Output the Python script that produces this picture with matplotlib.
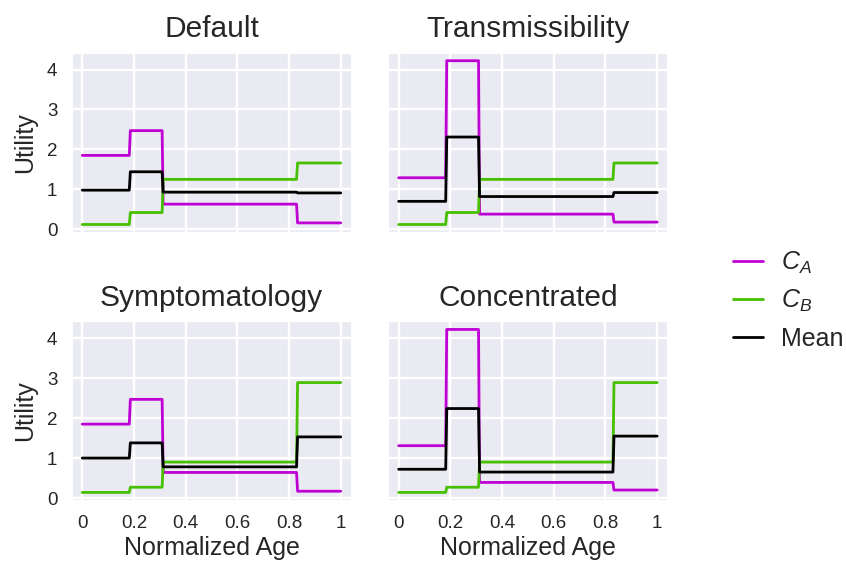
import numpy as np
import matplotlib
matplotlib.use('Agg')
import matplotlib.pyplot as plt
import seaborn as sns

# Границы возрастных групп (нормированный возраст)
edges = [0.0, 0.182, 0.309, 0.829, 1.0]

titles = ['Default', 'Transmissibility', 'Symptomatology', 'Concentrated']

# Уровни полезности по группам
ca_default = [1.85, 2.47, 0.63, 0.16]
cb_default = [0.12, 0.42, 1.25, 1.66]
mean_default = [0.98, 1.44, 0.93, 0.91]

ca_trans = [1.29, 4.22, 0.38, 0.18]
cb_trans = [0.12, 0.42, 1.25, 1.66]
mean_trans = [0.70, 2.31, 0.82, 0.92]

ca_sympt = [1.85, 2.47, 0.64, 0.17]
cb_sympt = [0.14, 0.27, 0.90, 2.89]
mean_sympt = [1.00, 1.38, 0.78, 1.53]

ca_conc = [1.31, 4.22, 0.39, 0.20]
cb_conc = [0.14, 0.27, 0.90, 2.89]
mean_conc = [0.72, 2.24, 0.65, 1.55]

panels = [
    (ca_default, cb_default, mean_default),
    (ca_trans, cb_trans, mean_trans),
    (ca_sympt, cb_sympt, mean_sympt),
    (ca_conc, cb_conc, mean_conc),
]

sns.set_style('darkgrid')
plt.rcParams['font.family'] = ['Liberation Sans', 'DejaVu Sans']
plt.rcParams['mathtext.fontset'] = 'custom'
plt.rcParams['mathtext.it'] = 'Liberation Sans:italic'
plt.rcParams['mathtext.rm'] = 'Liberation Sans'


def step_xy(levels, w=0.004):
    # ступенчатая линия с очень крутыми переходами
    xs, ys = [], []
    for i, v in enumerate(levels):
        x0 = edges[i] + (w if i > 0 else 0)
        x1 = edges[i + 1]
        xs += [x0, x1]
        ys += [v, v]
    return xs, ys


fig = plt.figure(figsize=(8.46, 5.61), dpi=100)
lefts = [0.085, 0.459]
bottoms = [0.587, 0.108]
w, h = 0.33, 0.319

colors = ['#bf00d4', '#46c000', 'black']
labels = ['$C_A$', '$C_B$', 'Mean']

axes = []
for k, (ca, cb, mean) in enumerate(panels):
    r, c = divmod(k, 2)
    ax = fig.add_axes([lefts[c], bottoms[r], w, h])
    axes.append(ax)
    for vals, col, lab in zip((ca, cb, mean), colors, labels):
        xs, ys = step_xy(vals)
        ax.plot(xs, ys, color=col, lw=2.0, label=lab)
    ax.set_xlim(-0.04, 1.04)
    ax.set_ylim(-0.06, 4.42)
    ax.set_xticks([0, 0.2, 0.4, 0.6, 0.8, 1.0])
    ax.set_yticks([0, 1, 2, 3, 4])
    ax.set_title(titles[k], fontsize=21.5, pad=11)
    ax.grid(color='white', lw=1.7)
    ax.tick_params(labelsize=13.5, pad=7)
    if r == 1:
        ax.set_xticklabels(['0', '0.2', '0.4', '0.6', '0.8', '1'])
        ax.set_xlabel('Normalized Age', fontsize=18, labelpad=3)
    else:
        ax.set_xticklabels([])
    if c == 0:
        ax.set_ylabel('Utility', fontsize=18, labelpad=7)
    else:
        ax.set_yticklabels([])

handles, labs = axes[0].get_legend_handles_labels()
fig.legend(handles, labs, loc='center left', bbox_to_anchor=(0.84, 0.465),
           frameon=False, fontsize=18, handlelength=1.2, handletextpad=0.7,
           labelspacing=0.5)

fig.savefig('out.png', dpi=100)
